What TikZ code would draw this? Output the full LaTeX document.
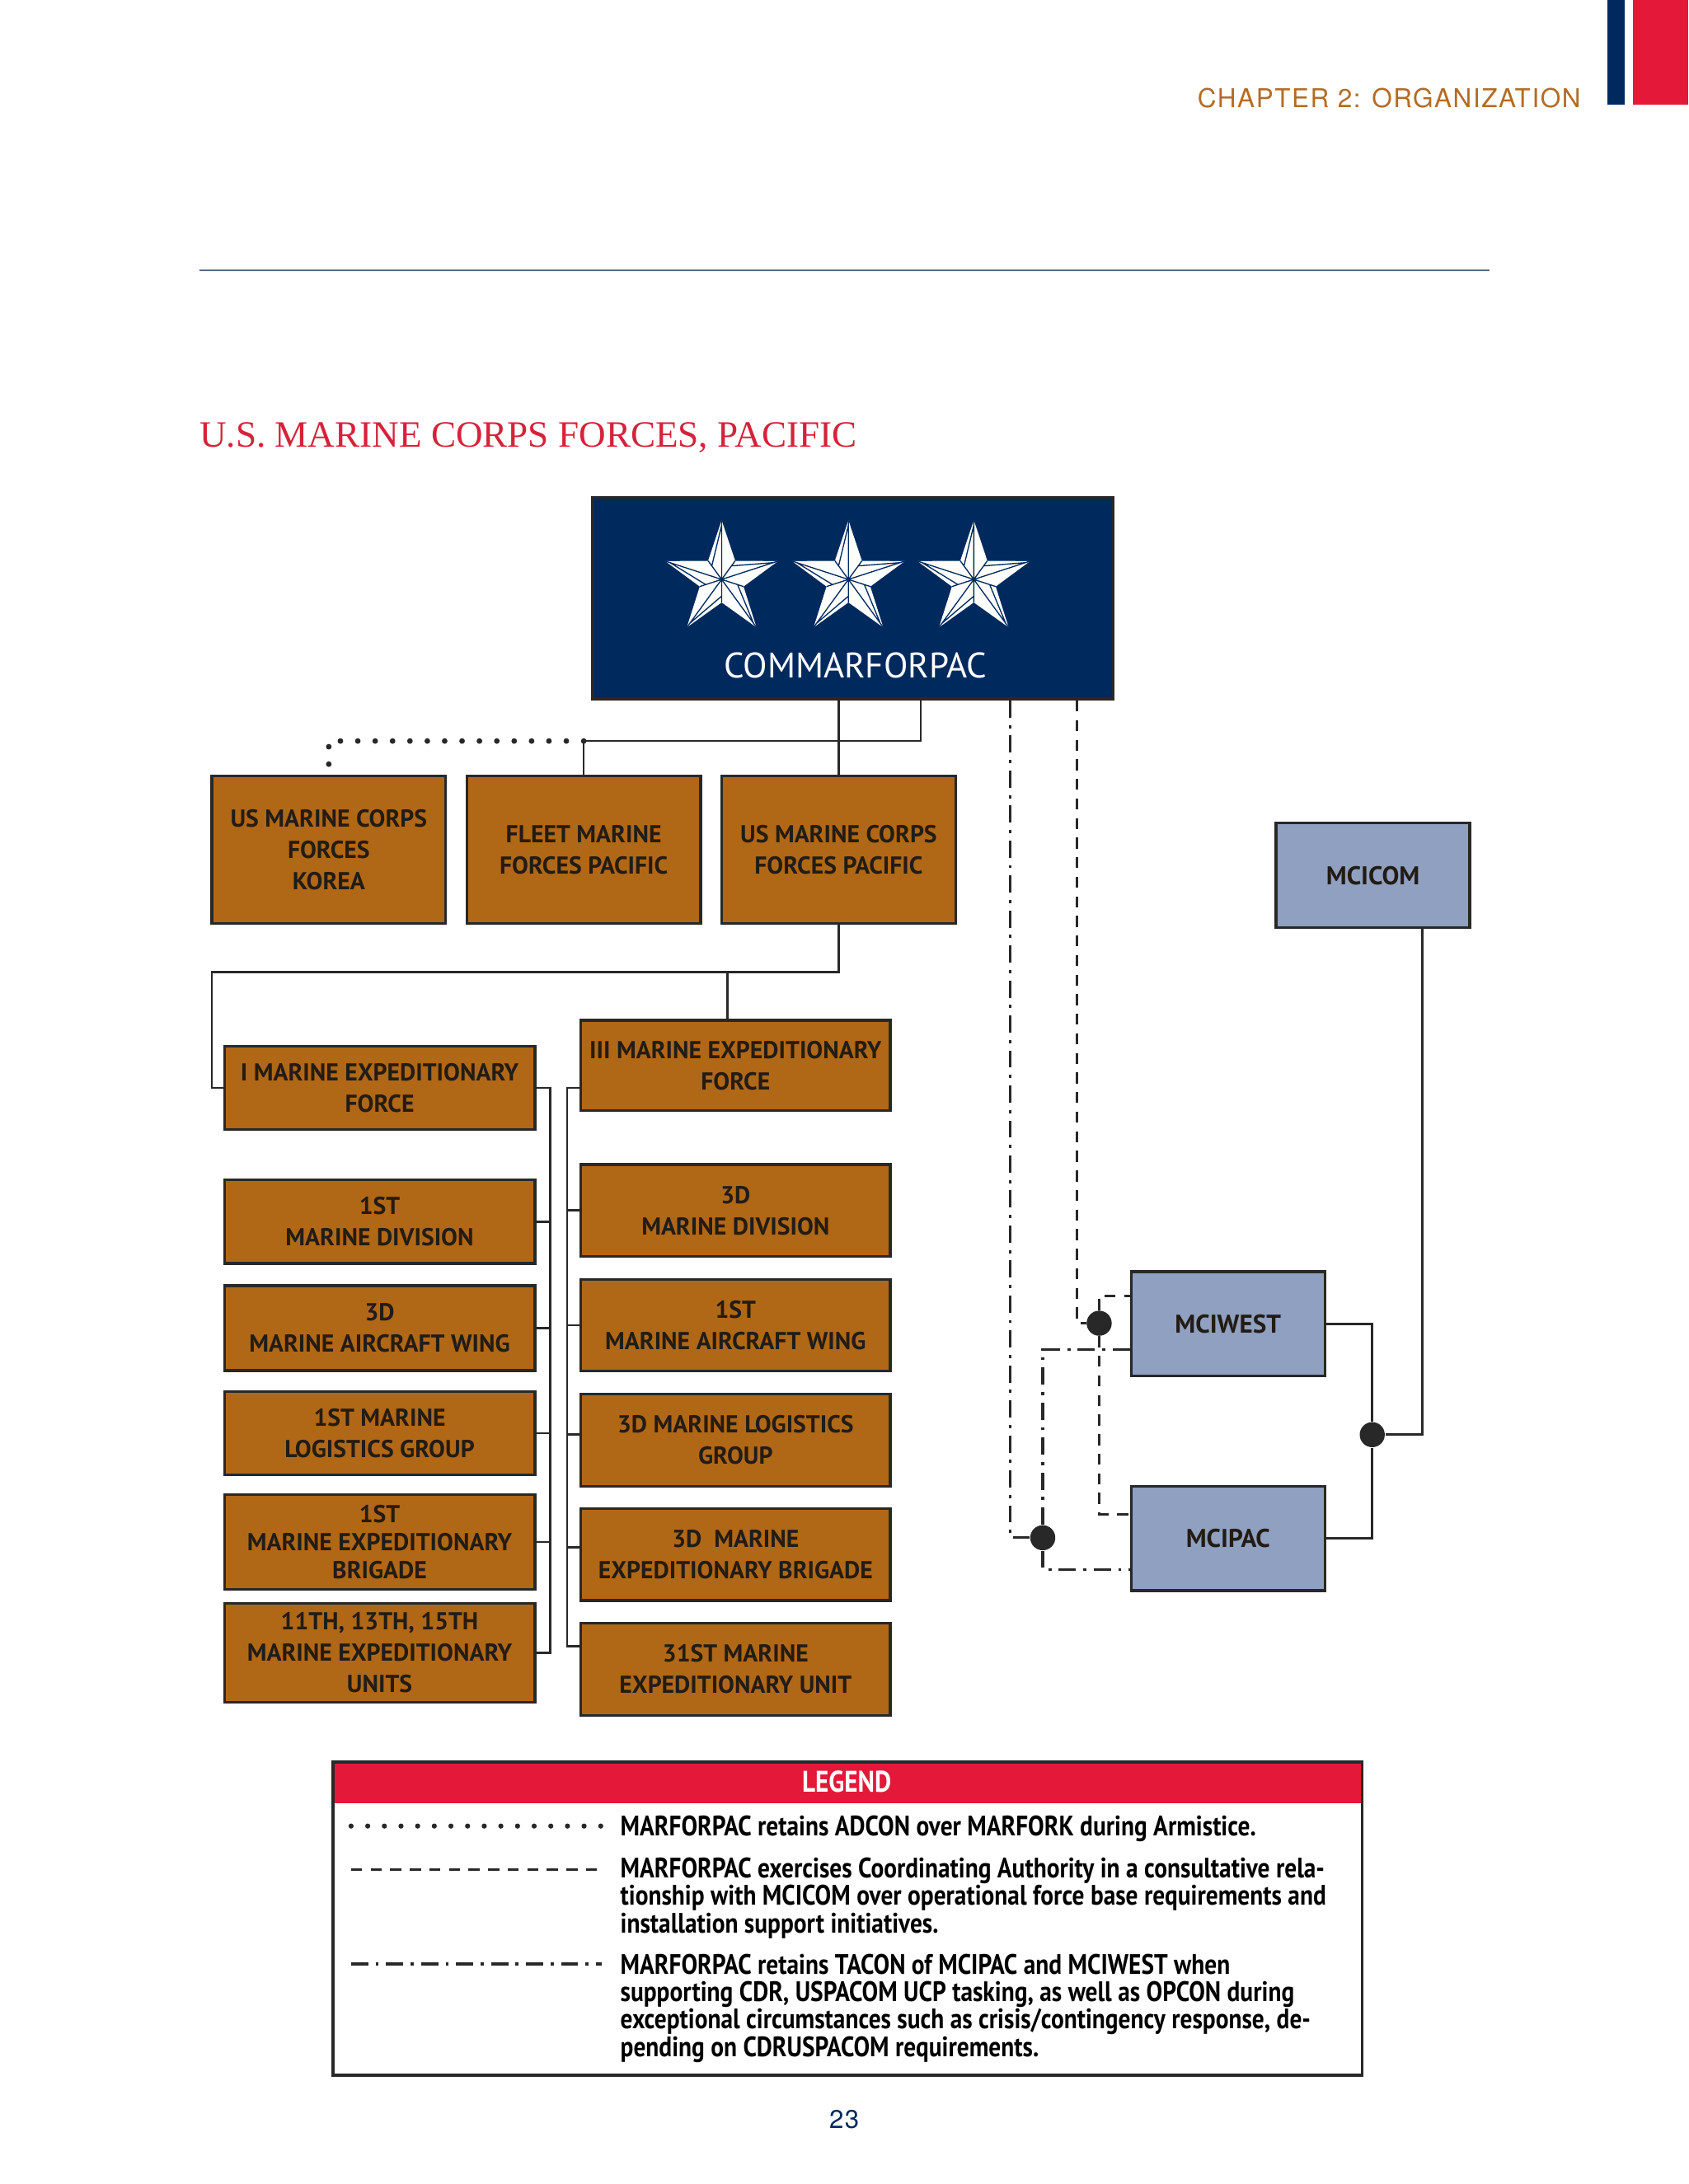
\documentclass[tikz,border=0pt]{standalone}
\usepackage{fontspec}
\setmainfont{PT Sans}
\newfontfamily\headfont{TeX Gyre Heros}[LetterSpace=5]
\newfontfamily\titlefont{Liberation Serif}
\newfontfamily\legfont{PT Sans}[FakeStretch=0.86]

\definecolor{commandnavy}{RGB}{0,42,94}
\definecolor{marineorange}{RGB}{176,103,22}
\definecolor{installblue}{RGB}{143,160,192}
\definecolor{legendred}{RGB}{228,24,56}
\definecolor{titlered}{RGB}{214,34,58}
\definecolor{chapterbrown}{RGB}{180,108,36}
\definecolor{boxline}{RGB}{40,40,40}
\definecolor{boxtext}{RGB}{35,28,20}
\definecolor{rulecolor}{RGB}{85,105,135}

\begin{document}
\begin{tikzpicture}[
  x=0.02cm, y=-0.02cm,
  unit/.style={draw=boxline, line width=1.1pt, fill=marineorange, text=boxtext, align=center, inner sep=2pt,
    font=\bfseries\fontsize{10}{12.8}\selectfont},
  toprow/.style={unit, minimum width=3.36cm, minimum height=2.12cm},
  leftcol/.style={unit, minimum width=4.46cm},
  rightcol/.style={unit, minimum width=4.44cm, minimum height=1.32cm},
  base/.style={draw=boxline, line width=1.1pt, fill=installblue, text=boxtext, font=\bfseries\fontsize{10.5}{12}\selectfont,
    minimum width=2.78cm, minimum height=1.5cm},
  link/.style={draw=boxline, line width=0.9pt},
  adcon/.style={draw=boxline, line width=2.3pt, line cap=round, dash pattern=on 0pt off 7.1pt},
  coordauth/.style={draw=boxline, line width=1.05pt, dash pattern=on 4.5pt off 3.5pt},
  tacon/.style={draw=boxline, line width=1.05pt, dash pattern=on 7pt off 3pt on 1.3pt off 3pt},
  junction/.style={circle, fill=boxline, inner sep=0pt, minimum size=0.36cm},
  legtext/.style={anchor=north west, inner sep=0pt, align=left, text=black,
    font=\legfont\bfseries\fontsize{11.5}{11.2}\selectfont}
]
\useasboundingbox[fill=white] (0,0) rectangle (1212,1568);

% page header
\fill[commandnavy] (1154,0) rectangle (1166,75);
\fill[legendred] (1172,0) rectangle (1212,75);
\node[font=\headfont\fontsize{10.6}{12}\selectfont, text=chapterbrown, anchor=base east, inner sep=0] (chapter) at (1135,77) {CHAPTER 2: ORGANIZATION};
\draw[rulecolor, line width=0.6pt] (143,194) -- (1069,194);
\node[font=\titlefont\fontsize{15.2}{18}\selectfont, text=titlered, anchor=base west, inner sep=0] (title) at (143,321) {U.S. MARINE CORPS FORCES, PACIFIC};

% commander
\node[unit, fill=commandnavy, minimum width=7.48cm, minimum height=2.9cm] (cmd) at (612,429.5) {};
\foreach \cx in {518,609,699} {
  \fill[white, shift={(\cx,416)}] (90:0.85cm) -- (126:0.33cm) -- (162:0.85cm) -- (198:0.33cm) -- (234:0.85cm) -- (270:0.33cm)
    -- (306:0.85cm) -- (342:0.33cm) -- (18:0.85cm) -- (54:0.33cm) -- cycle;
  \foreach \a in {90,162,234,306,18} {
    \draw[commandnavy, line width=0.45pt, shift={(\cx,416)}] (0,0) -- (\a:0.85cm) (0,0) -- (\a+36:0.33cm)
      (\a:0.78cm) -- (\a+36:0.24cm);
  }
}
\node[font=\fontsize{14.5}{16}\selectfont, text=white] (cmdname) at (614,478) {COMMARFORPAC};

% forces
\node[toprow] (korea) at (236,610) {US MARINE CORPS\\FORCES\\KOREA};
\node[toprow] (fleet) at (419,610) {FLEET MARINE\\FORCES PACIFIC};
\node[toprow] (pac) at (602,610) {US MARINE CORPS\\FORCES PACIFIC};

% I MEF column
\node[leftcol, minimum height=1.2cm] (imef) at (272.5,781) {I MARINE EXPEDITIONARY\\FORCE};
\node[leftcol, minimum height=1.2cm] (mardiv1) at (272.5,877) {1ST\\MARINE DIVISION};
\node[leftcol, minimum height=1.22cm] (maw3) at (272.5,953.5) {3D\\MARINE AIRCRAFT WING};
\node[leftcol, minimum height=1.2cm] (mlg1) at (272.5,1029) {1ST MARINE\\LOGISTICS GROUP};
\node[leftcol, minimum height=1.36cm, font=\bfseries\fontsize{10}{11.4}\selectfont] (meb1) at (272.5,1107) {1ST\\MARINE EXPEDITIONARY\\BRIGADE};
\node[leftcol, minimum height=1.42cm] (meu) at (272.5,1186.5) {11TH, 13TH, 15TH\\MARINE EXPEDITIONARY\\UNITS};

% III MEF column
\node[rightcol, minimum height=1.3cm] (iiimef) at (528,765) {III MARINE EXPEDITIONARY\\FORCE};
\node[rightcol] (mardiv3) at (528,869) {3D\\MARINE DIVISION};
\node[rightcol] (maw1) at (528,951.5) {1ST\\MARINE AIRCRAFT WING};
\node[rightcol] (mlg3) at (528,1034) {3D MARINE LOGISTICS\\GROUP};
\node[rightcol] (meb3) at (528,1116) {3D\ \ MARINE\\EXPEDITIONARY BRIGADE};
\node[rightcol] (meu31) at (528,1198.5) {31ST MARINE\\EXPEDITIONARY UNIT};

% installations
\node[base] (mcicom) at (985.5,628.5) {MCICOM};
\node[base] (mciwest) at (881.5,950.5) {MCIWEST};
\node[base] (mcipac) at (881.5,1104.5) {MCIPAC};
\node[junction] (westdot) at (789,950) {};
\node[junction] (tacondot) at (748.5,1104) {};
\node[junction] (basedot) at (985,1030) {};

\coordinate (fork) at (661,532);
\coordinate (split) at (152,698);
\coordinate (lbus) at (395,781);
\coordinate (rbus) at (407,781);
\coordinate (cax) at (773,502);
\coordinate (tcx) at (725,502);

% command lines
\draw[link] (cmd.south -| pac.north) -- (pac.north);
\draw[link] (cmd.south -| fork) -- (fork) -| (fleet.north);
\draw[adcon] (fleet.north |- fork) -| ([yshift=0.1cm]korea.north);
\draw[link] (pac.south) |- (split) |- (imef.west);
\draw[link] ([xshift=-0.12cm]iiimef.north) -- ([xshift=-0.12cm]iiimef.north |- split);

\draw[link] (imef.east) -| (lbus |- meu.east) -- (meu.east);
\foreach \u in {mardiv1,maw3,mlg1,meb1}
  \draw[link] (\u.east) -- (\u.east -| lbus);
\draw[link] ([yshift=-0.32cm]iiimef.west) -| ([yshift=0.33cm]meu31.west -| rbus) -- ([yshift=0.33cm]meu31.west);
\foreach \u/\s in {mardiv3/0, maw1/0, mlg3/0.08, meb3/0.1}
  \draw[link] ([yshift=\s cm]\u.west) -- ([yshift=\s cm]\u.west -| rbus);

% installation lines
\draw[coordauth] (cmd.south -| cax) |- (westdot);
\draw[coordauth] (westdot) |- ([yshift=0.4cm]mciwest.west);
\draw[coordauth] (westdot) |- ([yshift=0.35cm]mcipac.west);
\draw[tacon] (cmd.south -| tcx) |- (tacondot);
\draw[tacon] (tacondot) |- ([yshift=-0.37cm]mciwest.west);
\draw[tacon] (tacondot) |- ([yshift=-0.45cm]mcipac.west);
\draw[link] (mciwest.east) -| (basedot);
\draw[link] (basedot) |- (mcipac.east);
\draw[link] ([xshift=0.71cm]mcicom.south) |- (basedot);

% legend
\node[fill=legendred, minimum width=14.78cm, minimum height=0.6cm, anchor=north west, inner sep=0, text=white,
  font=\legfont\bfseries\fontsize{12.2}{13}\selectfont] (legendhead) at (238,1264) {LEGEND};
\node[draw=boxline, line width=1.1pt, minimum width=14.78cm, minimum height=4.5cm, anchor=north west, inner sep=0] (legend) at (238,1264) {};
\coordinate (adconA) at (252,1311);
\coordinate (adconB) at (432,1311);
\coordinate (caA) at (252,1342);
\coordinate (caB) at (432,1342);
\coordinate (taconA) at (252,1410);
\coordinate (taconB) at (432,1410);
\draw[adcon, line width=2.1pt, dash pattern=on 0pt off 6.8pt] (adconA) -- (adconB);
\draw[coordauth] (caA) -- (caB);
\draw[tacon] (taconA) -- (taconB);
\node[legtext] (adcontext) at (445,1303.5) {MARFORPAC retains ADCON over MARFORK during Armistice.};
\node[legtext] (catext) at (445,1333.5) {MARFORPAC exercises Coordinating Authority in a consultative rela-\\tionship with MCICOM over operational force base requirements and\\installation support initiatives.};
\node[legtext] (tacontext) at (445,1402.5) {MARFORPAC retains TACON of MCIPAC and MCIWEST when\\supporting CDR, USPACOM UCP tasking, as well as OPCON during\\exceptional circumstances such as crisis/contingency response, de-\\pending on CDRUSPACOM requirements.};

\node[font=\headfont\fontsize{10.5}{12}\selectfont, text=commandnavy, anchor=base] (pagenum) at (606,1528) {23};
\end{tikzpicture}
\end{document}
